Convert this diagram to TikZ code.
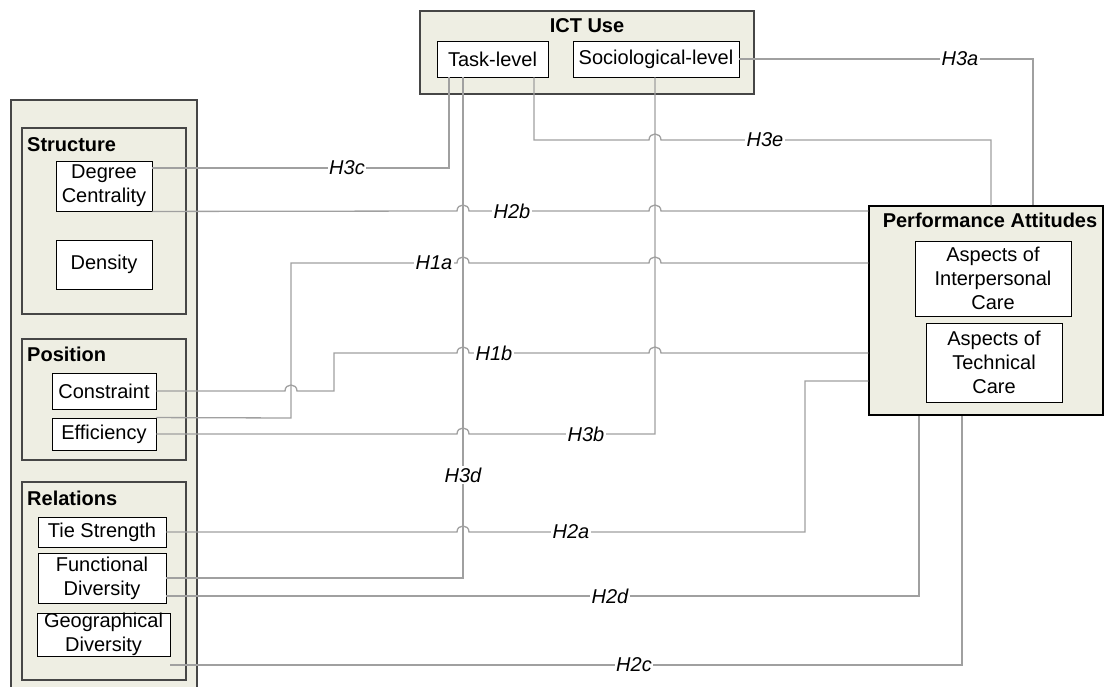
\documentclass[tikz,border=0pt]{standalone}
\usepackage{fontspec}
\setmainfont{Liberation Sans}
\usepackage{tikz}
\usetikzlibrary{positioning}
\definecolor{grpfill}{RGB}{238,238,227}
\definecolor{grpline}{RGB}{70,70,70}
\definecolor{linkgray}{RGB}{160,160,160}
\newcommand{\fs}{\fontsize{20}{24}\selectfont}
\newcommand{\hop}[2]{-- (#1-6,#2) .. controls (#1-6,#2-8) and (#1+6,#2-8) .. (#1+6,#2)}
\tikzset{
  grp/.style={rectangle, draw=grpline, fill=grpfill, line width=1.1pt, inner sep=0pt},
  item/.style={rectangle, draw, fill=white, line width=0.9pt, inner sep=0pt, align=center, font=\fs},
  ttl/.style={inner sep=0pt, font=\fs\bfseries},
  link/.style={draw=linkgray, line width=1.3pt},
  hyp/.style={fill=white, inner sep=1.5pt, font=\fs\itshape}
}

\begin{document}
\begin{tikzpicture}[x=1pt, y=-1pt]
    \useasboundingbox (0,0) rectangle (1104,687);
    \node (ict)  at (587,52.5)  [grp, minimum width=334, minimum height=83] {};
    \node (ictt) at (587,33)    [ttl, anchor=base] {ICT Use};
    \node (tl)   at (492.5,59)  [item, minimum width=111, minimum height=36] {Task-level};
    \node (soc)  at (656,59)    [item, minimum width=166, minimum height=36] {Sociological-level};

    \node (net)  at (104,400)   [grp, minimum width=186, minimum height=600] {};
    \node (str)  at (104,221)   [grp, minimum width=164, minimum height=186] {};
    \node (strt) at (27,152)    [ttl, anchor=base west] {Structure};
    \node (dc)   at (104,186)   [item, minimum width=96, minimum height=50] {Degree\\Centrality};
    \node (den)  at (104,264.5) [item, minimum width=96, minimum height=49] {Density};
    \node (pos)  at (104,399.5) [grp, minimum width=164, minimum height=121] {};
    \node (post) at (27,362)    [ttl, anchor=base west] {Position};
    \node (con)  at (104,391)   [item, minimum width=104, minimum height=36] {Constraint};
    \node (eff)  at (104,434)   [item, minimum width=104, minimum height=32] {Efficiency};
    \node (rel)  at (104,581)   [grp, minimum width=164, minimum height=198] {};
    \node (relt) at (27,505)    [ttl, anchor=base west] {Relations};
    \node (tie)  at (102,532)   [item, minimum width=128, minimum height=30] {Tie Strength};
    \node (fd)   at (102,578)   [item, minimum width=128, minimum height=50] {Functional\\Diversity};
    \node (geo)  at (103.5,634.5) [item, minimum width=133, minimum height=43] {Geographical\\Diversity};

    \node (pa)   at (986,310.5) [grp, draw=black, minimum width=234, minimum height=209] {};
    \node (pat)  at (990,228)   [ttl, anchor=base] {Performance Attitudes};
    \node (ipc)  at (993,278.5) [item, minimum width=156, minimum height=75] {Aspects of\\Interpersonal\\Care};
    \node (tc)   at (994,362.5) [item, minimum width=136, minimum height=79] {Aspects of\\Technical\\Care};

    \draw[link] (soc.east) -- (960,59) node[hyp] {H3a} -- (1033,59) -- (pa.north -| 1033,0);
    \draw[link] (tl.south -| 534,0) -- (534,140) \hop{655}{140} -- (765,140) node[hyp] {H3e} -- (991,140) -- (pa.north -| 991,0);
    \draw[link] (dc.east |- 0,168) -- (347,168) node[hyp] {H3c} -- (449,168) -- (tl.south -| 449,0);
    \draw[link] (tl.south -| 463,0) -- (463,475) node[hyp] {H3d} -- (463,578) -- (fd.east);
    \draw[link] (eff.east) \hop{463}{434} -- (586,434) node[hyp] {H3b} -- (655,434) -- (soc.south -| 655,0);
    \draw[link] (dc.south east) \hop{463}{211} -- (512,211) node[hyp] {H2b} \hop{655}{211} -- (pa.west |- 0,211);
    \draw[link] (eff.north east) -- (291,418) -- (291,263) -- (434,263) node[hyp] {H1a} \hop{463}{263} \hop{655}{263} -- (pa.west |- 0,263);
    \draw[link] (con.east) \hop{291}{391} -- (334,391) -- (334,353) \hop{463}{353} -- (494,353) node[hyp] {H1b} \hop{655}{353} -- (pa.west |- 0,353);
    \draw[link] (tie.east) \hop{463}{532} -- (571,532) node[hyp] {H2a} -- (805,532) -- (805,381) -- (pa.west |- 0,381);
    \draw[link] (fd.east |- 0,596) -- (610,596) node[hyp] {H2d} -- (919,596) -- (pa.south -| 919,0);
    \draw[link] (geo.east |- 0,665) -- (634,665) node[hyp] {H2c} -- (962,665) -- (pa.south -| 962,0);
\end{tikzpicture}
\end{document}
